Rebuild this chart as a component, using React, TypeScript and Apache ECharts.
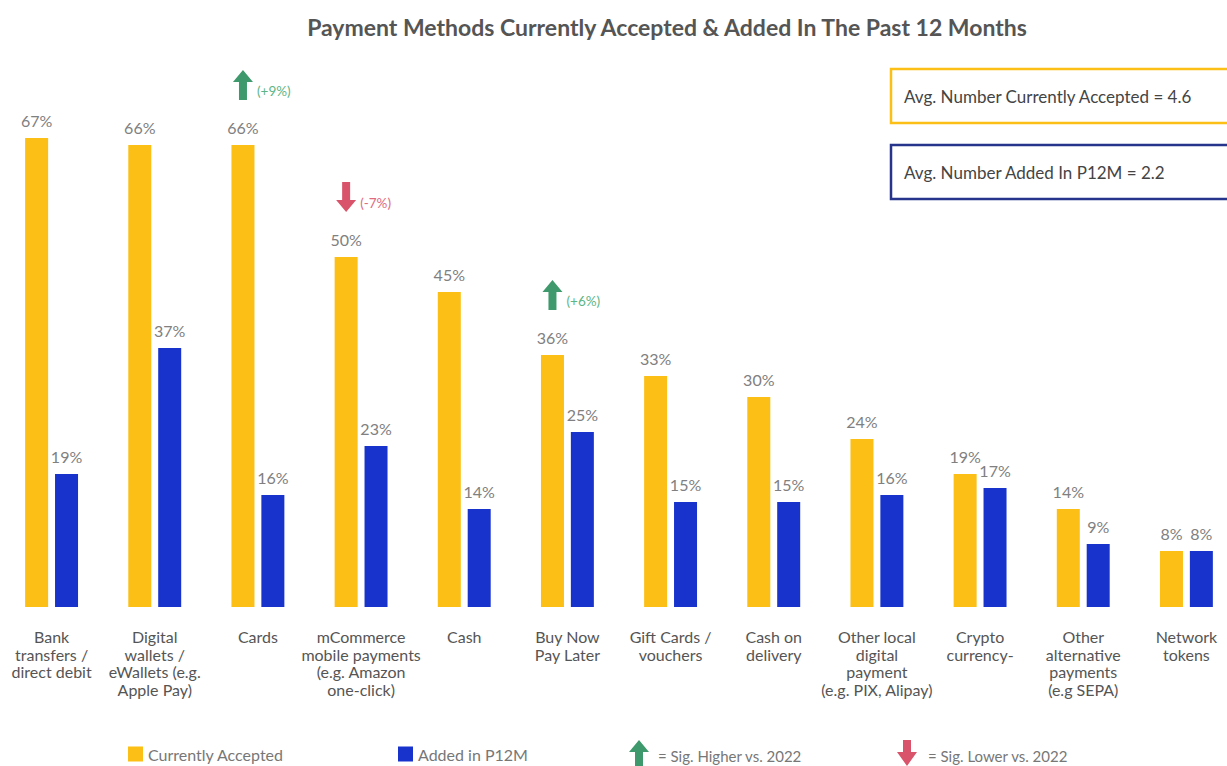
import React, { useEffect, useRef } from "react";
import * as echarts from "echarts";

const categories = [
  "Bank\ntransfers /\ndirect debit",
  "Digital\nwallets /\neWallets (e.g.\nApple Pay)",
  "Cards",
  "mCommerce\nmobile payments\n(e.g. Amazon\none-click)",
  "Cash",
  "Buy Now\nPay Later",
  "Gift Cards /\nvouchers",
  "Cash on\ndelivery",
  "Other local\ndigital\npayment\n(e.g. PIX, Alipay)",
  "Crypto\ncurrency-",
  "Other\nalternative\npayments\n(e.g SEPA)",
  "Network\ntokens",
];
const currentlyAccepted = [67, 66, 66, 50, 45, 36, 33, 30, 24, 19, 14, 8];
const addedP12M = [19, 37, 16, 23, 14, 25, 15, 15, 16, 17, 9, 8];
// significance flags on "Currently Accepted": [category index, change label, direction]
const sigChanges: [number, string, "up" | "down"][] = [
  [2, "(+9%)", "up"],
  [3, "(-7%)", "down"],
  [5, "(+6%)", "up"],
];
const avgAccepted = 4.6;
const avgAdded = 2.2;

const YELLOW = "#FBBF15";
const BLUE = "#1733CC";
const GREEN = "#3E9A6C";
const RED = "#D9546A";
const FONT = "Lato";

const UP = "path://M10 0 L20 12 L14 12 L14 30 L6 30 L6 12 L0 12 Z";
const DOWN = "path://M6 0 L14 0 L14 18 L20 18 L10 30 L0 18 L6 18 Z";

export default function App() {
  const ref = useRef<HTMLDivElement>(null);
  useEffect(() => {
    if (!ref.current) return;
    const chart = echarts.init(ref.current, null, { renderer: "svg" });
    const markData = sigChanges.map(([i, txt, dir]) => ({
      coord: [i, currentlyAccepted[i]],
      symbol: dir === "up" ? UP : DOWN,
      symbolSize: [20, 30],
      symbolOffset: [0, -60],
      itemStyle: { color: dir === "up" ? GREEN : RED },
      label: {
        show: true,
        position: "right",
        distance: 4,
        offset: [0, 6],
        formatter: txt,
        color: dir === "up" ? "#5DB585" : "#E06A7E",
        fontSize: 13.5,
        fontFamily: FONT,
      },
    }));
    const valueLabel = {
      show: true,
      position: "top",
      distance: 10,
      formatter: "{c}%",
      fontFamily: FONT,
      fontSize: 16,
      color: "#808080",
    };
    const legendText = { fontFamily: FONT, fontSize: 16, color: "#777777" };
    chart.setOption({
      animation: false,
      backgroundColor: "#ffffff",
      title: {
        text: "Payment Methods Currently Accepted & Added In The Past 12 Months",
        left: 662,
        textAlign: "center",
        top: 10,
        textStyle: { fontFamily: FONT, fontWeight: "bold", fontSize: 23, color: "#555555" },
      },
      legend: [
        {
          data: ["Currently Accepted"],
          left: 123,
          top: 741,
          itemWidth: 15,
          itemHeight: 15,
          icon: "rect",
          textStyle: legendText,
          selectedMode: false,
        },
        {
          data: ["Added in P12M"],
          left: 393,
          top: 741,
          itemWidth: 15,
          itemHeight: 15,
          icon: "rect",
          textStyle: legendText,
          selectedMode: false,
        },
      ],
      grid: { left: 0, width: 1238, top: 117, height: 490, containLabel: false },
      xAxis: {
        type: "category",
        data: categories,
        axisLine: { show: false },
        axisTick: { show: false },
        axisLabel: {
          interval: 0,
          margin: 21,
          fontFamily: FONT,
          fontSize: 16,
          lineHeight: 17.5,
          color: "#555555",
          verticalAlign: "top",
        },
      },
      yAxis: { type: "value", min: 0, max: 70, show: false, splitLine: { show: false } },
      series: [
        {
          name: "Currently Accepted",
          type: "bar",
          data: currentlyAccepted,
          barWidth: 23,
          barGap: "30%",
          itemStyle: { color: YELLOW },
          label: valueLabel,
          markPoint: { data: markData, silent: true },
        },
        {
          name: "Added in P12M",
          type: "bar",
          data: addedP12M,
          barWidth: 23,
          itemStyle: { color: BLUE },
          label: valueLabel,
        },
      ],
      graphic: [
        {
          type: "rect",
          shape: { x: 891, y: 69, width: 360, height: 54 },
          style: { fill: "none", stroke: YELLOW, lineWidth: 2.5 },
        },
        {
          type: "text",
          x: 904,
          y: 96,
          style: {
            text: `Avg. Number Currently Accepted = ${avgAccepted}`,
            fontFamily: FONT,
            fontSize: 17,
            fill: "#444444",
            verticalAlign: "middle",
          },
        },
        {
          type: "rect",
          shape: { x: 891, y: 145, width: 360, height: 54 },
          style: { fill: "none", stroke: "#27348B", lineWidth: 2.5 },
        },
        {
          type: "text",
          x: 904,
          y: 172,
          style: {
            text: `Avg. Number Added In P12M = ${avgAdded}`,
            fontFamily: FONT,
            fontSize: 17,
            fill: "#444444",
            verticalAlign: "middle",
          },
        },
        {
          type: "polygon",
          shape: { points: [[639, 740], [649, 752], [643, 752], [643, 770], [635, 770], [635, 752], [629, 752]] },
          style: { fill: GREEN },
        },
        {
          type: "text",
          x: 658,
          y: 756,
          style: { text: "= Sig. Higher vs. 2022", fontFamily: FONT, fontSize: 15, fill: "#777777", verticalAlign: "middle" },
        },
        {
          type: "polygon",
          shape: { points: [[903, 740], [911, 740], [911, 752], [917, 752], [907, 766], [897, 752], [903, 752]] },
          style: { fill: RED },
        },
        {
          type: "text",
          x: 928,
          y: 756,
          style: { text: "= Sig. Lower vs. 2022", fontFamily: FONT, fontSize: 15, fill: "#777777", verticalAlign: "middle" },
        },
      ],
    });
    return () => chart.dispose();
  }, []);
  return (
    <div
      ref={ref}
      style={{ position: "fixed", left: 0, top: 0, width: 1250, height: 766 }}
    />
  );
}
